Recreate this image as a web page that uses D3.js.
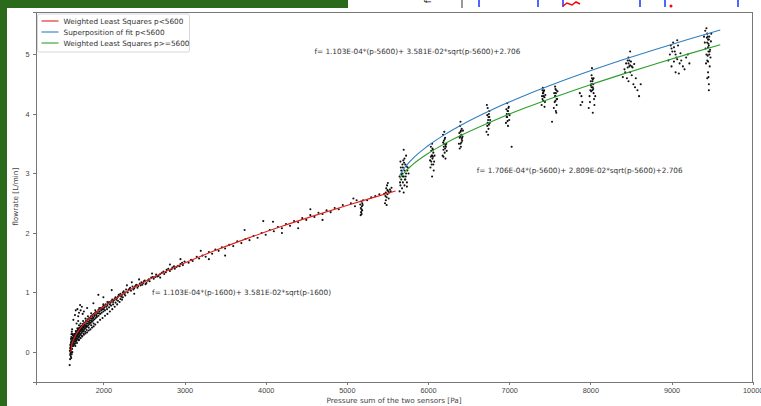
<!DOCTYPE html>
<html>

<head>
    <meta charset="utf-8">
    <title>Flowrate vs pressure sum</title>
    <script src="https://d3js.org/d3.v7.min.js"></script>
    <style>
        body {
            margin: 0;
            background: #fff;
        }

        svg {
            display: block;
            font-family: "DejaVu Sans", sans-serif;
        }

        .axis text {
            font-size: 7.3px;
            fill: #444;
        }

        .axis path,
        .axis line {
            fill: none;
            stroke: #777;
            shape-rendering: crispEdges;
        }

        .label {
            font-size: 7.3px;
            fill: #444;
        }

        .fit-text {
            font-size: 7.3px;
            fill: #333;
        }
    </style>
</head>

<body>
    <svg width="761" height="406"></svg>

    <script>
        // tick values
        const xTicks = [2000, 3000, 4000, 5000, 6000, 7000, 8000, 9000, 10000];
        const yTicks = [0, 1, 2, 3, 4, 5];

        const legendLabels = ["Weighted Least Squares p<5600", "Superposition of fit p<5600", "Weighted Least Squares p>=5600"];
        const lineColors = ["#e3201c", "#2f7fbf", "#2ca02c"];

        // fitted curves
        const redP = [1600, 1610, 1625, 1650, 1700, 1750, 1800, 1900, 2000, 2200, 2400, 2600, 2800, 3000, 3400, 3800, 4200, 4600, 5000, 5300, 5600];
        const redF = [0, 0.114, 0.182, 0.259, 0.369, 0.455, 0.529, 0.653, 0.760, 0.943, 1.101, 1.243, 1.373, 1.494, 1.718, 1.922, 2.113, 2.292, 2.463, 2.586, 2.706];

        const highP = [5650, 5700, 5800, 6000, 6200, 6400, 6800, 7200, 7600, 8000, 8400, 8800, 9200, 9600];
        const blueF = [2.965, 3.075, 3.235, 3.466, 3.649, 3.807, 4.079, 4.315, 4.528, 4.725, 4.910, 5.085, 5.252, 5.412];
        const greenF = [2.913, 3.004, 3.137, 3.336, 3.496, 3.637, 3.884, 4.103, 4.303, 4.492, 4.670, 4.841, 5.006, 5.165];

        // measurements, p < 5600
        const scatterLow = [
            [1585, -0.22], [1590, -0.12], [1592, -0.05], [1595, 0.0], [1598, 0.03], [1600, -0.08], [1602, 0.05], [1588, 0.02],
            [1596, 0.08], [1604, 0.1], [1606, 0.0], [1608, 0.12], [1594, -0.03], [1599, 0.15], [1603, 0.18], [1610, 0.06],
            [1612, 0.15], [1597, 0.1], [1601, 0.22], [1605, 0.25], [1614, 0.2], [1616, 0.1], [1618, 0.24], [1620, 0.3],
            [1609, -0.04], [1593, 0.12], [1607, 0.3], [1611, 0.34], [1615, 0.38], [1620, 0.15], [1622, 0.22], [1625, 0.28],
            [1591, 0.06], [1613, -0.01], [1604, -0.1],
            [1630, 0.2], [1635, 0.15], [1640, 0.22], [1645, 0.18], [1650, 0.25], [1655, 0.2], [1660, 0.28], [1665, 0.22],
            [1670, 0.3], [1675, 0.26], [1680, 0.32], [1685, 0.28], [1690, 0.35], [1695, 0.3], [1700, 0.36], [1705, 0.32],
            [1710, 0.38], [1720, 0.35], [1725, 0.41], [1730, 0.37], [1740, 0.42], [1745, 0.38], [1750, 0.45], [1760, 0.41],
            [1770, 0.47], [1775, 0.43], [1780, 0.5], [1790, 0.45], [1800, 0.52], [1810, 0.48], [1820, 0.55], [1830, 0.5],
            [1840, 0.57], [1850, 0.53], [1860, 0.6], [1870, 0.56], [1880, 0.63], [1890, 0.6], [1900, 0.66], [1915, 0.62],
            [1930, 0.68], [1945, 0.65], [1960, 0.72], [1975, 0.7], [1990, 0.75], [2005, 0.72], [2020, 0.78], [2040, 0.76],
            [2060, 0.82], [2080, 0.8], [2100, 0.86], [2120, 0.84], [2140, 0.9], [2160, 0.88], [2180, 0.93], [2200, 0.95],
            [1640, 0.3], [1660, 0.35], [1680, 0.4], [1700, 0.45], [1720, 0.48], [1750, 0.52], [1780, 0.56], [1810, 0.6],
            [1850, 0.65], [1900, 0.7], [1950, 0.74], [2000, 0.8], [2050, 0.84], [2150, 0.92],
            [1630, 0.54], [1650, 0.62], [1680, 0.72], [1713, 0.79], [1735, 0.76], [1700, 0.66], [1877, 0.82], [1938, 0.96],
            [2103, 1.04], [1800, 0.74], [2000, 0.92], [1760, 0.68],
            [1660, 0.7], [1690, 0.6], [1720, 0.7], [1745, 0.64], [1670, 0.48], [1690, 0.52],
            [1615, 0.05], [1618, 0.0], [1622, 0.12], [1626, 0.18], [1628, 0.1], [1632, 0.24], [1636, 0.26], [1642, 0.27],
            [1648, 0.3], [1652, 0.22], [1658, 0.31], [1662, 0.24], [1668, 0.33], [1672, 0.27], [1678, 0.36], [1682, 0.3],
            [1688, 0.38], [1692, 0.33], [1698, 0.4], [1702, 0.34], [1708, 0.41], [1715, 0.37], [1722, 0.43], [1728, 0.39],
            [1735, 0.44], [1742, 0.4], [1748, 0.47], [1755, 0.43], [1765, 0.49], [1772, 0.45], [1785, 0.52], [1795, 0.48],
            [1805, 0.55], [1815, 0.51], [1825, 0.57], [1835, 0.53], [1845, 0.6], [1855, 0.56], [1865, 0.62], [1875, 0.58],
            [1885, 0.64], [1895, 0.62], [1910, 0.67], [1925, 0.65], [1940, 0.71], [1955, 0.68], [1970, 0.74], [1985, 0.72],
            [2000, 0.77], [2015, 0.75], [2030, 0.8], [2050, 0.79], [2070, 0.84], [2090, 0.83], [2110, 0.88], [2130, 0.87],
            [2170, 0.91], [2190, 0.96], [2210, 0.98], [2230, 0.96], [2250, 1.02], [2270, 1.0], [2310, 1.04], [2330, 1.08],
            [2370, 1.05], [2390, 1.1], [2410, 1.13], [2430, 1.11], [2460, 1.12], [2470, 1.17], [2490, 1.16], [2510, 1.2],
            [2520, 1.14], [2545, 1.2], [2570, 1.19], [2610, 1.26], [2640, 1.26], [2665, 1.27], [2700, 1.31], [2740, 1.35],
            [2770, 1.34], [2800, 1.4], [2840, 1.39], [2870, 1.44], [2900, 1.43], [2940, 1.44], [2970, 1.5],
            [1640, 0.12], [1650, 0.14], [1660, 0.17], [1670, 0.19], [1680, 0.22], [1690, 0.24], [1700, 0.26], [1710, 0.28],
            [1720, 0.3], [1730, 0.32], [1740, 0.34], [1750, 0.35], [1760, 0.37], [1770, 0.39], [1780, 0.4], [1790, 0.42],
            [1800, 0.43], [1815, 0.45], [1830, 0.47], [1845, 0.49], [1860, 0.51], [1875, 0.53], [1890, 0.55], [1905, 0.57],
            [1920, 0.59], [1940, 0.61], [1960, 0.64], [1980, 0.66], [2000, 0.68], [2020, 0.7], [2045, 0.72], [2070, 0.75],
            [2095, 0.78], [2120, 0.8], [2150, 0.83], [2180, 0.86], [2210, 0.89], [2240, 0.92], [2270, 0.95],
            [1655, 0.1], [1675, 0.15], [1695, 0.2], [1715, 0.24], [1735, 0.27], [1755, 0.31], [1775, 0.34], [1795, 0.37],
            [1820, 0.41], [1850, 0.45], [1880, 0.48],
            [1700, 0.2], [1720, 0.23], [1740, 0.26], [1760, 0.29], [1780, 0.31], [1800, 0.33], [1820, 0.36], [1840, 0.38],
            [1860, 0.41], [1880, 0.43], [1900, 0.46], [1930, 0.5], [1960, 0.54], [1990, 0.57], [2020, 0.61], [2050, 0.64],
            [2080, 0.68], [2110, 0.72], [2140, 0.76], [2170, 0.8], [2200, 0.84], [2230, 0.88],
            [2220, 0.93], [2240, 1.0], [2260, 0.97], [2280, 1.05], [2300, 1.0], [2320, 1.06], [2340, 1.03], [2360, 1.1],
            [2380, 1.07], [2400, 1.12], [2420, 1.08], [2450, 1.15], [2480, 1.13], [2500, 1.19], [2530, 1.16], [2560, 1.22],
            [2590, 1.25], [2620, 1.23], [2650, 1.3], [2680, 1.28], [2720, 1.33], [2750, 1.31], [2780, 1.38], [2820, 1.36],
            [2850, 1.42], [2880, 1.4], [2920, 1.45], [2950, 1.48], [2980, 1.46], [3000, 1.52],
            [2290, 1.12], [2350, 1.17], [2440, 1.22], [2600, 1.32], [2820, 1.47], [2950, 1.56], [2380, 0.98], [2700, 1.25],
            [3050, 1.5], [3080, 1.55], [3100, 1.53], [3150, 1.6], [3180, 1.57], [3220, 1.62], [3260, 1.6], [3300, 1.68],
            [3340, 1.65], [3380, 1.72], [3420, 1.7], [3460, 1.76], [3500, 1.74], [3550, 1.8], [3600, 1.78], [3650, 1.86],
            [3700, 1.83], [3750, 1.9], [3800, 1.88], [3850, 1.95], [3900, 1.92], [3950, 2.0], [4000, 1.97], [4050, 2.05],
            [4100, 2.03], [4150, 2.1], [4200, 2.08], [4250, 2.15], [4300, 2.12], [4350, 2.2], [4400, 2.18], [4450, 2.25],
            [4500, 2.22], [4550, 2.3], [4600, 2.27], [4650, 2.34], [4700, 2.32], [4750, 2.38], [4800, 2.35], [4850, 2.42],
            [4900, 2.4], [4950, 2.47],
            [3740, 2.05], [3970, 2.2], [4090, 2.19], [4400, 2.08], [3500, 1.62], [3300, 1.56], [4200, 2.0], [4700, 2.22],
            [3200, 1.7], [4550, 2.4],
            [5170, 2.3], [5175, 2.35], [5180, 2.4], [5185, 2.45], [5190, 2.5], [5178, 2.53], [5172, 2.42], [5188, 2.38],
            [5195, 2.47], [5165, 2.48], [5182, 2.32], [5200, 2.55],
            [5050, 2.5], [5100, 2.45], [5120, 2.55], [5080, 2.58], [5250, 2.55], [5300, 2.6], [5350, 2.62], [5400, 2.65],
            [5470, 2.5], [5480, 2.55], [5490, 2.6], [5500, 2.65], [5510, 2.7], [5485, 2.75], [5495, 2.8], [5505, 2.84],
            [5475, 2.62], [5515, 2.58], [5520, 2.68], [5490, 2.47], [5500, 2.72], [5480, 2.68], [5530, 2.73], [5540, 2.7],
            [5460, 2.66], [5550, 2.76]
        ];

        // measurements, p >= 5600
        const scatterHigh = [
            [5650, 2.7], [5660, 2.8], [5670, 2.9], [5680, 3.0], [5690, 3.1], [5700, 2.95], [5710, 3.05], [5720, 3.15],
            [5730, 3.0], [5740, 2.85], [5660, 3.2], [5680, 2.75], [5700, 2.68], [5720, 2.9], [5750, 3.1], [5670, 3.05],
            [5690, 2.85], [5710, 3.25], [5730, 3.3], [5700, 3.4], [5740, 2.78], [5760, 3.0], [5650, 2.95], [5690, 2.95],
            [5710, 2.8], [5665, 3.1], [5685, 3.15], [5705, 3.18], [5725, 2.95], [5745, 3.05], [5675, 2.98], [5695, 3.22],
            [5715, 2.9], [5735, 3.12], [5655, 2.85],
            [6030, 3.1], [6040, 3.2], [6050, 3.3], [6060, 3.4], [6045, 3.15], [6055, 3.25], [6065, 3.35], [6070, 3.05],
            [6035, 3.45], [6050, 3.5], [6075, 3.2], [6060, 3.28], [6040, 3.38], [6080, 3.3], [6025, 3.22], [6050, 2.95],
            [6045, 3.3], [6055, 3.42], [6065, 3.15], [6035, 3.28],
            [6180, 3.3], [6190, 3.4], [6200, 3.5], [6210, 3.6], [6220, 3.45], [6195, 3.55], [6205, 3.35], [6215, 3.25],
            [6185, 3.65], [6225, 3.5], [6200, 3.7], [6210, 3.42], [6190, 3.28], [6230, 3.38],
            [6195, 3.45], [6205, 3.58], [6215, 3.48], [6185, 3.52],
            [6380, 3.5], [6390, 3.6], [6400, 3.7], [6410, 3.65], [6420, 3.55], [6395, 3.8], [6405, 3.45], [6415, 3.75],
            [6385, 3.68], [6425, 3.62], [6400, 3.87], [6410, 3.52], [6430, 3.72], [6390, 3.42], [6420, 3.6],
            [6395, 3.62], [6405, 3.72], [6415, 3.58], [6400, 3.5],
            [6720, 3.7], [6730, 3.8], [6740, 3.9], [6750, 4.0], [6760, 3.85], [6735, 4.1], [6745, 3.75], [6755, 3.95],
            [6725, 4.15], [6765, 3.9], [6740, 3.65], [6750, 3.82], [6735, 3.85], [6745, 3.95], [6755, 4.05], [6730, 3.98],
            [6960, 3.85], [6970, 3.95], [6980, 4.05], [6990, 4.1], [7000, 3.9], [6975, 4.18], [6985, 3.8], [6995, 4.0],
            [6965, 4.08], [7005, 3.98], [6980, 3.88], [7030, 3.45], [6975, 3.95], [6985, 4.05], [6995, 4.12], [6970, 4.0],
            [7400, 4.15], [7410, 4.25], [7420, 4.35], [7430, 4.4], [7440, 4.2], [7415, 4.44], [7425, 4.3], [7435, 4.12],
            [7405, 4.3], [7445, 4.32], [7420, 4.22], [7415, 4.35], [7425, 4.38], [7435, 4.28], [7410, 4.4],
            [7550, 4.1], [7560, 4.2], [7570, 4.3], [7580, 4.4], [7590, 4.25], [7565, 4.46], [7575, 4.05], [7585, 4.15],
            [7555, 4.35], [7595, 4.38], [7570, 4.22], [7580, 4.02], [7528, 3.87], [7565, 4.3], [7575, 4.35], [7585, 4.25],
            [7570, 4.42],
            [7880, 4.15], [7890, 4.3], [7900, 4.2], [7870, 4.35],
            [7990, 4.3], [8000, 4.4], [8010, 4.5], [8020, 4.6], [8030, 4.45], [8040, 4.35], [8005, 4.55], [8015, 4.65],
            [8025, 4.4], [8035, 4.5], [8045, 4.25], [7995, 4.2], [8050, 4.15], [8020, 4.77], [8060, 4.3], [7980, 4.1],
            [8030, 4.02], [8010, 4.38], [8040, 4.6], [8015, 4.45], [8025, 4.55], [8035, 4.42], [8020, 4.5], [8005, 4.48],
            [8030, 4.58],
            [8420, 4.75], [8440, 4.85], [8460, 4.9], [8480, 4.8], [8500, 4.88], [8520, 4.78], [8450, 4.6], [8470, 4.55],
            [8490, 4.7], [8510, 4.65], [8530, 4.5], [8550, 4.45], [8400, 4.62], [8560, 4.6], [8580, 4.4], [8490, 5.05],
            [8600, 4.3], [8470, 4.95], [8430, 4.7], [8540, 4.84], [8620, 4.5], [8470, 4.85], [8490, 4.82], [8510, 4.8],
            [8480, 4.9], [8460, 4.78],
            [8960, 4.9], [8980, 5.0], [9000, 5.1], [9020, 5.2], [9040, 5.05], [9060, 4.95], [9080, 5.15], [9100, 4.85],
            [9120, 4.9], [9140, 4.8], [9160, 4.75], [9000, 4.8], [9050, 4.7], [9070, 5.24], [9180, 4.95], [9220, 4.85],
            [8990, 5.15], [9090, 4.68], [9200, 5.0], [9030, 4.88], [9010, 5.05], [9030, 5.12], [9050, 5.0], [9070, 4.92],
            [9110, 5.02],
            [9400, 5.3], [9410, 5.2], [9420, 5.1], [9430, 5.0], [9440, 4.9], [9450, 5.25], [9460, 5.15], [9470, 5.05],
            [9480, 4.95], [9490, 5.35], [9415, 5.4], [9435, 5.28], [9455, 5.18], [9475, 5.08], [9445, 4.98], [9425, 4.85],
            [9465, 5.3], [9485, 5.22], [9450, 4.7], [9440, 4.6], [9460, 4.5], [9430, 5.44], [9470, 4.8],
            [9440, 5.2], [9450, 5.12], [9460, 5.25], [9445, 5.3], [9455, 5.05], [9465, 5.0], [9450, 4.88], [9440, 5.35],
            [9460, 4.4], [9455, 4.62]
        ];

        const fitTexts = [
            "f= 1.103E-04*(p-5600)+ 3.581E-02*sqrt(p-5600)+2.706",
            "f= 1.706E-04*(p-5600)+ 2.809E-02*sqrt(p-5600)+2.706",
            "f= 1.103E-04*(p-1600)+ 3.581E-02*sqrt(p-1600)"
        ];
        const fitTextP = [4600, 6600, 2600];
        const fitTextF = [5.0, 3.0, 0.95];

        const svg = d3.select("svg");
        const W = 761, H = 406;

        svg.append("rect").attr("width", W).attr("height", H).attr("fill", "#fff");

        // slide background strips
        svg.append("rect").attr("x", 0).attr("y", 0).attr("width", 7).attr("height", H).attr("fill", "#2a6a1a");
        svg.append("rect").attr("x", 0).attr("y", 0).attr("width", 348).attr("height", 8).attr("fill", "#2a6a1a");

        // cut off piece of the picture above
        const frag = svg.append("g");
        frag.append("text").attr("transform", "translate(428,0) rotate(-90)")
            .attr("font-size", 9).attr("fill", "#222").attr("dy", "0.35em").attr("text-anchor", "end").text("f");
        frag.append("line").attr("x1", 462).attr("x2", 462).attr("y1", 0).attr("y2", 8).attr("stroke", "#333");
        [479, 538, 563, 640, 665, 738].forEach(px => {
            frag.append("line").attr("x1", px).attr("x2", px).attr("y1", 0).attr("y2", 7)
                .attr("stroke", "#1730ff").attr("stroke-width", 1.5);
        });
        frag.append("path").attr("d", "M563,6 L567,3 L572,5 L576,2 L580,4")
            .attr("fill", "none").attr("stroke", "red").attr("stroke-width", 1.5);
        frag.append("circle").attr("cx", 671).attr("cy", 6).attr("r", 1.5).attr("fill", "red");

        const margin = { left: 36, top: 12, right: 752.7, bottom: 381.5 };

        const x = d3.scaleLinear().domain([1170, 10000]).range([margin.left, margin.right]);
        const y = d3.scaleLinear().domain([-0.496, 5.714]).range([margin.bottom, margin.top]);

        svg.append("clipPath").attr("id", "plot")
            .append("rect").attr("x", margin.left).attr("y", margin.top)
            .attr("width", 752 - margin.left).attr("height", margin.bottom - margin.top);

        const plot = svg.append("g").attr("clip-path", "url(#plot)");

        plot.selectAll(".dot")
            .data(scatterLow.concat(scatterHigh))
            .enter().append("circle")
            .attr("class", "dot")
            .attr("cx", d => x(d[0]))
            .attr("cy", d => y(d[1]))
            .attr("r", 1.05)
            .attr("fill", "#111");

        const line = d3.line()
            .x(d => x(d[0]))
            .y(d => y(d[1]))
            .curve(d3.curveMonotoneX);

        const curves = [
            d3.zip(redP, redF),
            d3.zip(highP, blueF),
            d3.zip(highP, greenF)
        ];

        plot.selectAll(".fit")
            .data(curves)
            .enter().append("path")
            .attr("class", "fit")
            .attr("d", line)
            .attr("fill", "none")
            .attr("stroke", (d, i) => lineColors[i])
            .attr("stroke-width", 1.1);

        // axes
        svg.append("g")
            .attr("class", "axis")
            .attr("transform", "translate(0," + margin.bottom + ")")
            .call(d3.axisBottom(x).tickValues(xTicks).tickFormat(d3.format("d")).tickSizeOuter(0).tickSize(3.5).tickPadding(3));

        svg.append("g")
            .attr("class", "axis")
            .attr("transform", "translate(" + margin.left + ",0)")
            .call(d3.axisLeft(y).tickValues(yTicks).tickFormat(d3.format("d")).tickSizeOuter(0).tickSize(3.5).tickPadding(3));

        // top / right spines
        svg.append("line").attr("x1", margin.left).attr("x2", 752).attr("y1", margin.top).attr("y2", margin.top)
            .attr("stroke", "#777").attr("shape-rendering", "crispEdges");
        svg.append("line").attr("x1", 752).attr("x2", 752).attr("y1", margin.top).attr("y2", margin.bottom)
            .attr("stroke", "#777").attr("shape-rendering", "crispEdges");

        // fit formulas
        svg.selectAll(".fit-text")
            .data(fitTexts)
            .enter().append("text")
            .attr("class", "fit-text")
            .attr("x", (d, i) => x(fitTextP[i]))
            .attr("y", (d, i) => y(fitTextF[i]))
            .text(d => d);

        // axis labels
        svg.append("text").attr("class", "label")
            .attr("x", (margin.left + 752) / 2).attr("y", 403)
            .attr("text-anchor", "middle")
            .text("Pressure sum of the two sensors [Pa]");

        svg.append("text").attr("class", "label")
            .attr("transform", "translate(18," + ((margin.top + margin.bottom) / 2) + ") rotate(-90)")
            .attr("text-anchor", "middle")
            .text("flowrate [L/min]");

        // legend
        const legend = svg.append("g").attr("transform", "translate(37.5,14)");
        legend.append("rect")
            .attr("width", 152).attr("height", 38).attr("rx", 2)
            .attr("fill", "#fff").attr("fill-opacity", 0.8)
            .attr("stroke", "#ccc").attr("stroke-width", 0.8);

        const items = legend.selectAll(".item")
            .data(legendLabels)
            .enter().append("g")
            .attr("class", "item")
            .attr("transform", (d, i) => "translate(0," + (7 + i * 11) + ")");

        items.append("line")
            .attr("x1", 4).attr("x2", 21).attr("y1", 0).attr("y2", 0)
            .attr("stroke", (d, i) => lineColors[i]).attr("stroke-width", 1.1);

        items.append("text")
            .attr("x", 26).attr("dy", "0.35em")
            .attr("font-size", 7.3).attr("fill", "#333")
            .text(d => d);
    </script>
</body>

</html>
